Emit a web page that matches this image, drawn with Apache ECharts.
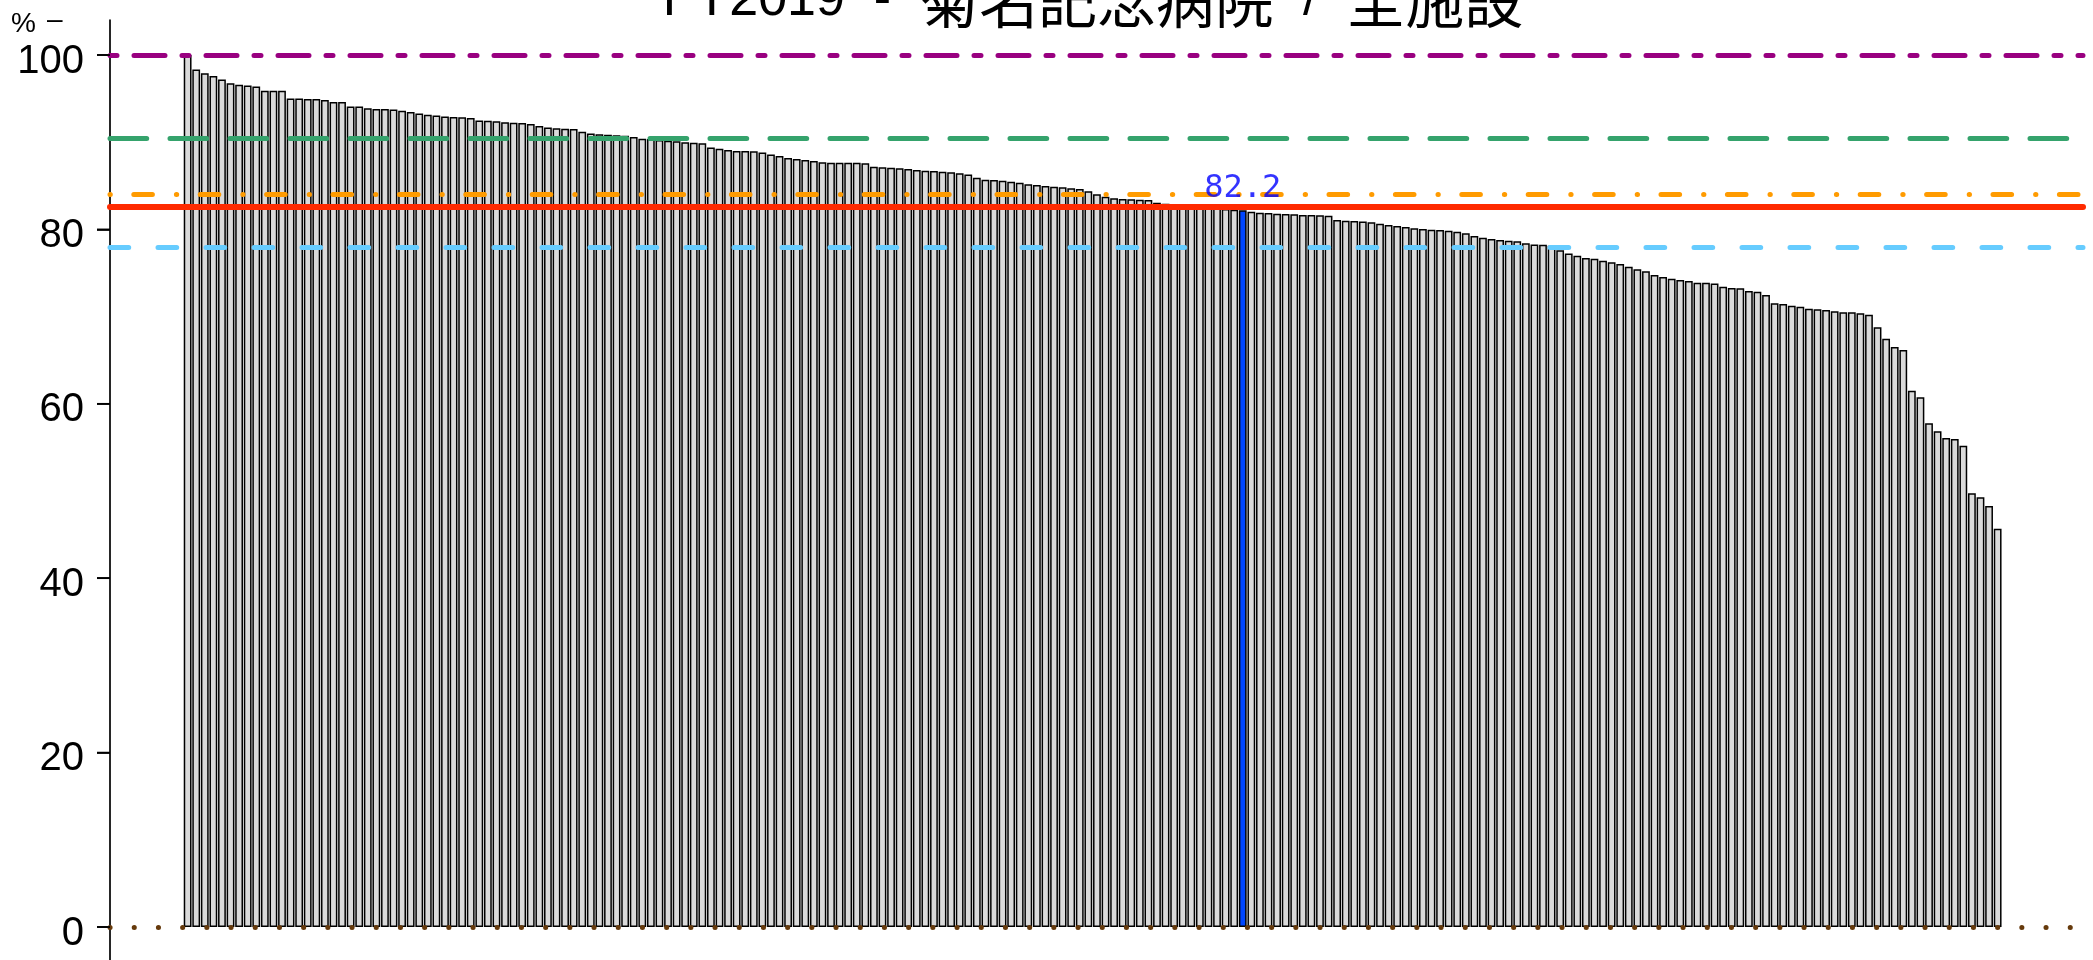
<!DOCTYPE html>
<html><head><meta charset="utf-8">
<script src="https://cdn.jsdelivr.net/npm/echarts@6/dist/echarts.min.js"></script>
<style>html,body{margin:0;padding:0;background:#fff}#c{width:2093px;height:960px}</style>
</head><body><div id="c"></div>
<script>
// ---- data ----
const titleLatin1 = 'FY2019  -  ';
const titleHospital = '菊名記念病院';
const titleLatin2 = '  /  ';
const titleScope = '全施設';
const yTicks = [0, 20, 40, 60, 80, 100];
const values = [
100, 98.35, 97.9, 97.6, 97.2, 96.75, 96.6, 96.5, 96.4, 95.9,
95.9, 95.9, 95.0, 95.0, 94.95, 94.95, 94.85, 94.6, 94.6, 94.1,
94.1, 93.9, 93.8, 93.8, 93.75, 93.6, 93.45, 93.3, 93.15, 93.05,
92.95, 92.9, 92.85, 92.77, 92.5, 92.47, 92.4, 92.3, 92.24, 92.2,
92.1, 91.86, 91.7, 91.6, 91.55, 91.5, 91.2, 91.0, 90.9, 90.86,
90.8, 90.75, 90.6, 90.4, 90.37, 90.25, 90.17, 90.1, 89.98, 89.94,
89.87, 89.4, 89.26, 89.1, 89.0, 89.0, 88.95, 88.83, 88.6, 88.42,
88.2, 88.07, 87.96, 87.84, 87.7, 87.65, 87.65, 87.65, 87.65, 87.58,
87.18, 87.12, 87.08, 87.0, 86.93, 86.81, 86.73, 86.7, 86.62, 86.54,
86.43, 86.31, 85.93, 85.7, 85.66, 85.59, 85.47, 85.36, 85.17, 85.09,
84.98, 84.9, 84.82, 84.71, 84.63, 84.37, 84.02, 83.75, 83.56, 83.49,
83.45, 83.41, 83.37, 83.06, 82.95, 82.87, 82.85, 82.75, 82.65, 82.55,
82.45, 82.35, 82.25, 82.2, 82.03, 81.92, 81.88, 81.8, 81.77, 81.73,
81.65, 81.65, 81.61, 81.57, 81.08, 81.0, 80.96, 80.92, 80.81, 80.66,
80.5, 80.39, 80.28, 80.12, 80.04, 79.97, 79.93, 79.85, 79.74, 79.55,
79.24, 79.05, 78.9, 78.78, 78.7, 78.63, 78.4, 78.28, 78.24, 78.13,
77.6, 77.25, 76.99, 76.72, 76.64, 76.41, 76.22, 76.03, 75.72, 75.42,
75.19, 74.77, 74.54, 74.35, 74.2, 74.08, 73.89, 73.89, 73.81, 73.43,
73.28, 73.24, 72.94, 72.86, 72.48, 71.52, 71.44, 71.25, 71.14, 70.9,
70.83, 70.76, 70.6, 70.49, 70.49, 70.38, 70.22, 68.77, 67.47, 66.51,
66.17, 61.5, 60.74, 57.76, 56.85, 56.08, 55.96, 55.2, 49.74, 49.28,
48.28, 45.68
];
const highlightIndex = 123;
const highlightLabel = '82.2';
const refValues = [100, 90.4, 84.06, 82.57, 77.9, 0];

// ---- layout / styles ----
const sans = '"Liberation Sans", Arial';
const plotTop = 20, plotBottomPad = 0, zeroY = 927, hundredY = 55, H = 960;
const pxPerUnit = (zeroY - hundredY) / 100;
const yMin = -(H - plotBottomPad - zeroY) / pxPerUnit;
const yMax = (zeroY - plotTop) / pxPerUnit;
const xMin = -9.05, xMax = 220.95;
const tickLen = 13;
const refStyles = [
  {color: '#990080', width: 5, type: [7, 17, 31, 17]},
  {color: '#35A36C', width: 5, type: [36.7, 23.3]},
  {color: '#FF9B00', width: 5, type: [0.3, 23.5, 18.6, 24]},
  {color: '#FF2A00', width: 6, type: 'solid'},
  {color: '#66CCFF', width: 5, type: [18.7, 29.3]},
  {color: '#663A0C', width: 5, type: [0.1, 24.1]}
];

const chart = echarts.init(document.getElementById('c'), null, {renderer: 'canvas'});
const barData = values.map((v, i) => i === highlightIndex
  ? {value: [i, v], itemStyle: {color: '#0046FF', borderColor: '#000', borderWidth: 1.5}}
  : {value: [i, v]});

chart.setOption({
  animation: false,
  backgroundColor: '#fff',
  grid: {left: 110, right: 10, top: plotTop, bottom: plotBottomPad},
  xAxis: {type: 'value', show: false, min: xMin, max: xMax, axisLine: {onZero: false}},
  yAxis: {type: 'value', position: 'left', min: yMin, max: yMax,
    axisLine: {show: true, onZero: false, lineStyle: {color: '#000', width: 1.7}},
    axisTick: {show: true, inside: false, length: tickLen, customValues: yTicks, lineStyle: {color: '#000', width: 1.7}},
    axisLabel: {show: true, customValues: yTicks, color: '#000', fontSize: 40, fontFamily: sans, margin: 26,
                verticalAlign: 'top', lineHeight: 13},
    splitLine: {show: false}},
  series: [
    {type: 'bar', barWidth: 7.8, z: 2,
     itemStyle: {color: '#DADADA', borderColor: '#000', borderWidth: 1.5},
     data: barData},
    {type: 'line', z: 5, data: [], silent: true,
     markLine: {silent: true, symbol: 'none', animation: false, label: {show: false},
       data: refValues.map((v, k) => ({yAxis: v, lineStyle: {color: refStyles[k].color, width: refStyles[k].width,
         type: refStyles[k].type, cap: 'round', dashOffset: 0}}))}},
    {type: 'custom', z: 6, silent: true, clip: false,
     data: yTicks.map(t => [xMin, t]),
     renderItem: function (params, api) {
       const p = api.coord([api.value(0), api.value(1)]);
       return {type: 'line', shape: {x1: p[0] - tickLen, y1: p[1], x2: p[0], y2: p[1]},
               style: {stroke: '#000', lineWidth: 1.7}};
     }},
    {type: 'scatter', z: 10, symbolSize: 0, silent: true,
     data: [[highlightIndex, values[highlightIndex]]],
     label: {show: true, position: 'top', distance: 6, formatter: highlightLabel, color: '#0000FF',
             fontSize: 32, fontFamily: '"DejaVu Sans Mono", monospace'}}
  ],
  graphic: [
    {type: 'text', x: 1093, y: 30, z: 20, style: {
      text: '{a|' + titleLatin1 + '}{b|' + titleHospital + '}{a|' + titleLatin2 + '}{b|' + titleScope + '}',
      align: 'center', verticalAlign: 'bottom', fill: '#000',
      rich: {
        a: {fontSize: 52, fontFamily: sans, fill: '#000'},
        b: {fontSize: 59, fontFamily: '"Noto Sans CJK JP", sans-serif', fill: '#000'}
      }}},
    {type: 'text', x: 11, y: 24, style: {text: '%', fill: '#000', font: '28px ' + sans, verticalAlign: 'middle'}},
    {type: 'text', x: 47, y: 20, style: {text: '–', fill: '#000', font: '28px ' + sans, verticalAlign: 'middle'}}
  ]
});
</script></body></html>
